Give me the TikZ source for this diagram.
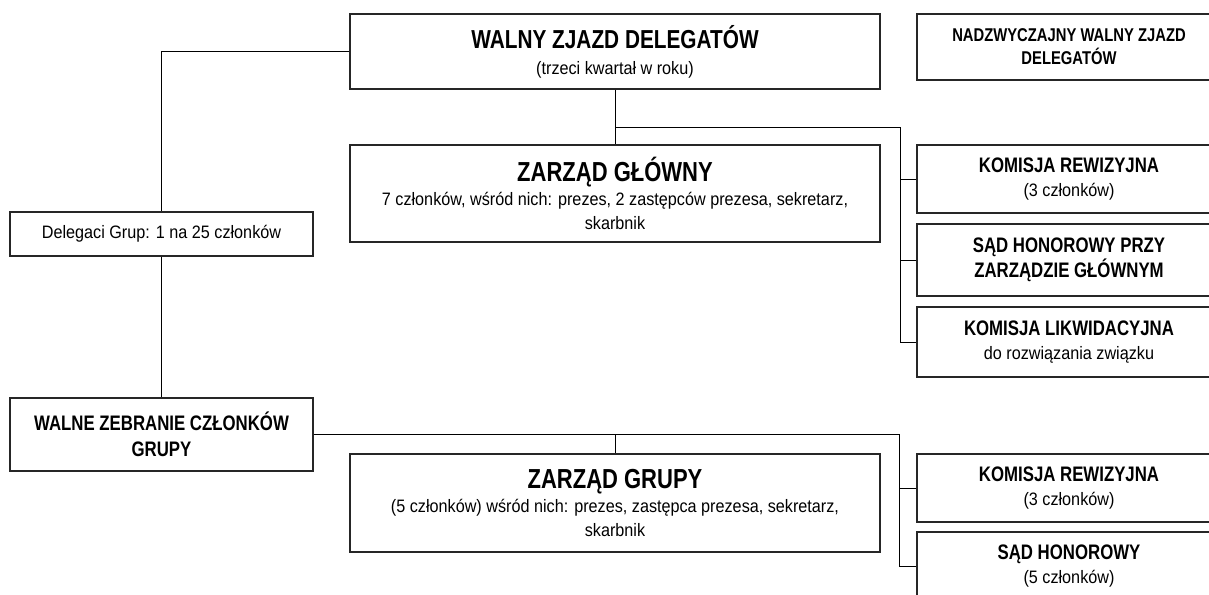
\documentclass[tikz,border=0pt]{standalone}
\usepackage{fontspec}
\setmainfont{Liberation Sans}[FakeStretch=0.9, BoldFeatures={FakeStretch=0.8}]
\newcommand\fs[2]{\fontsize{#1}{#2}\selectfont}
\newcommand\txt{\fs{18}{24}}
\begin{document}
\begin{tikzpicture}[x=1pt,y=-1pt,
  box/.style={draw=black!85, line width=1.2pt, rectangle, align=center, inner sep=0pt,
              fill=white, font=\fs{18}{24}},
  wide/.style={box, minimum width=530pt},
  side/.style={box, minimum width=304pt},
  left/.style={box, minimum width=303pt},
  link/.style={draw=black, line width=1pt}]
\clip (0,0) rectangle (1209,594);
\fill[white] (0,0) rectangle (1209,594);

% upper level: national bodies
\node[wide, minimum height=75pt, font=\fs{18}{26}] (wzd) at (615,51.5)
  {{\fs{26}{31}\bfseries WALNY ZJAZD DELEGATÓW}\\{\txt(trzeci kwartał w roku)}};
\node[side, minimum height=66pt, font=\fs{18.5}{23}] (nwzd) at (1069,47)
  {\bfseries NADZWYCZAJNY WALNY ZJAZD\\ \bfseries DELEGATÓW};
\node[wide, minimum height=97pt] (zg) at (615,193.5)
  {{\fs{27.5}{32}\bfseries ZARZĄD GŁÓWNY}\\
   {\txt 7 członków, wśród nich: prezes, 2 zastępców prezesa, sekretarz,}\\
   {\txt skarbnik}};
\node[side, minimum height=68pt] (kr1) at (1069,179)
  {{\fs{21}{25}\bfseries KOMISJA REWIZYJNA}\\{\txt(3 członków)}};
\node[side, minimum height=72pt, font=\fs{21}{25}] (sh1) at (1069,260)
  {\bfseries SĄD HONOROWY PRZY\\ \bfseries ZARZĄDZIE GŁÓWNYM};
\node[side, minimum height=70pt] (kl) at (1069,342)
  {{\fs{21}{25}\bfseries KOMISJA LIKWIDACYJNA}\\{\txt do rozwiązania związku}};

% delegates
\node[left, minimum height=44pt] (del) at (161.5,234)
  {Delegaci Grup: 1 na 25 członków};

% lower level: group bodies
\node[left, minimum height=73pt, font=\fs{21}{26}] (wzcg) at (161.5,434.5)
  {\bfseries WALNE ZEBRANIE CZŁONKÓW\\ \bfseries GRUPY};
\node[wide, minimum height=98pt] (zgr) at (615,503)
  {{\fs{27.5}{32}\bfseries ZARZĄD GRUPY}\\
   {\txt(5 członków) wśród nich: prezes, zastępca prezesa, sekretarz,}\\
   {\txt skarbnik}};
\node[side, minimum height=68pt] (kr2) at (1069,488)
  {{\fs{21}{25}\bfseries KOMISJA REWIZYJNA}\\{\txt(3 członków)}};
\node[side, minimum height=68pt] (sh2) at (1069,566)
  {{\fs{21}{25}\bfseries SĄD HONOROWY}\\{\txt(5 członków)}};

% connectors, upper level
\coordinate (j1) at (615,127);
\coordinate (c1) at (900,127);
\draw[link] (wzd.west) -| (del.north);
\draw[link] (wzd.south) -- (zg.north);
\draw[link] (j1) -- (c1) |- (kl.west);
\draw[link] (c1 |- kr1.west) -- (kr1.west);
\draw[link] (c1 |- sh1.west) -- (sh1.west);

% connectors, lower level
\coordinate (j2) at (615,434.5);
\coordinate (c2) at (899,434.5);
\draw[link] (del.south) -- (wzcg.north);
\draw[link] (wzcg.east) -- (c2) |- (sh2.west);
\draw[link] (j2) -- (zgr.north);
\draw[link] (c2 |- kr2.west) -- (kr2.west);
\end{tikzpicture}
\end{document}
